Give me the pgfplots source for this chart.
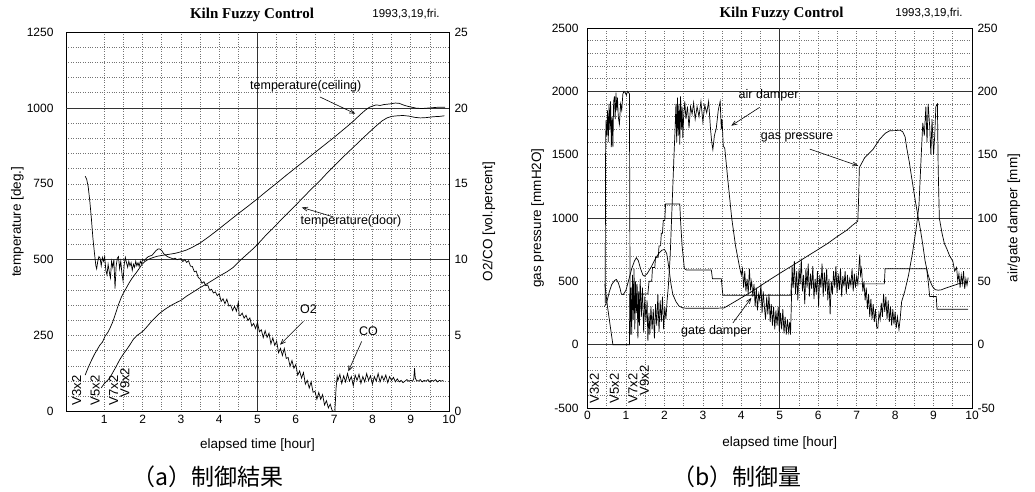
\documentclass[border=0pt]{standalone}
\usepackage{fontspec}
\setmainfont{Liberation Sans}
\newfontfamily\titlefont{Liberation Serif}
\newfontfamily\jpfont{Noto Sans CJK JP}
\usepackage{pgfplots}
\pgfplotsset{compat=1.18}
\usetikzlibrary{arrows.meta}

\tikzset{
  arr/.style={-{Straight Barb[length=5pt,width=4pt]}, line width=0.6pt},
  ann/.style={font=\fontsize{12.5}{13}\selectfont},
  vlab/.style={font=\fontsize{13}{13}\selectfont, rotate=90, anchor=west, inner sep=0pt},
}
\pgfplotsset{
  kiln/.style={
    scale only axis, anchor=south west,
    xmin=0, xmax=10,
    tick style={draw=none},
    axis line style={line width=0.8pt},
    /pgf/number format/assume math mode=true,
    /pgf/number format/1000 sep={},
    ticklabel style={font=\fontsize{12}{12}\selectfont},
    label style={font=\fontsize{13.5}{14}\selectfont},
    cycle list={{black, no markers}},
    every axis plot/.append style={line width=0.7pt},
  },
  gridded/.style={
    grid=both,
    minor x tick num=1,
    minor y tick num=4,
    major grid style={dotted, black!55, line width=0.6pt},
    minor grid style={dotted, black!55, line width=0.6pt},
    extra tick style={major grid style={solid, black!80, line width=0.6pt}, tick style={draw=none}},
    extra x ticks={5}, extra x tick labels={},
  },
  overlay/.style={
    axis x line=none, axis y line*=right,
    grid=none,
  },
}

\begin{document}
\begin{tikzpicture}
\useasboundingbox (0,0) rectangle (1035pt,491pt);

% ---------------- (a) ----------------
\begin{axis}[kiln, gridded,
  at={(66pt,79.5pt)}, width=383pt, height=379.5pt,
  ymin=0, ymax=1250, ytick={0,250,...,1250}, xtick={1,...,10},
  extra y ticks={500,1000}, extra y tick labels={},
  yticklabel style={xshift=-9pt},
  xlabel={elapsed time [hour]}, ylabel={temperature [deg.]},
  xlabel style={at={(axis description cs:0.5,-0.088)}, anchor=center},
  ylabel style={at={(axis description cs:-0.127,0.5)}, anchor=center},
]
% ceiling
\addplot coordinates {(0.50,120) (0.58,145) (0.67,170) (0.75,190) (0.82,205) (0.89,220) (0.95,228) (1.02,248) (1.1,262) (1.15,275) (1.22,295) (1.3,325) (1.37,352) (1.45,378) (1.52,395) (1.58,408) (1.65,424) (1.72,438) (1.81,453) (1.9,469) (1.98,484) (2.06,494) (2.15,501) (2.25,506) (2.37,511) (2.5,514) (2.7,518) (2.85,521) (3.0,526) (3.15,532) (3.3,541) (3.5,555) (3.7,573) (3.9,592) (4.1,612) (4.3,632) (4.5,652) (4.75,676) (5.0,701) (5.25,727) (5.5,752) (5.75,778) (6.0,803) (6.25,828) (6.5,853) (6.75,878) (7.0,903) (7.2,924) (7.4,945) (7.55,962) (7.7,980) (7.82,993) (7.92,1002) (8.0,1006) (8.1,1010) (8.2,1008) (8.3,1011) (8.45,1013) (8.6,1016) (8.7,1015) (8.8,1010) (8.9,1006) (9.0,1003) (9.15,999) (9.3,998) (9.5,1000) (9.7,1002) (9.9,1002)};
% door
\addplot coordinates {(0.92,78) (1.0,92) (1.08,102) (1.15,112) (1.22,128) (1.3,146) (1.4,170) (1.5,190) (1.59,205) (1.68,222) (1.76,238) (1.85,250) (1.94,258) (2.02,266) (2.12,280) (2.22,295) (2.35,312) (2.46,325) (2.6,338) (2.75,350) (2.9,360) (3.0,366) (3.15,380) (3.3,392) (3.5,408) (3.67,420) (3.85,434) (4.0,446) (4.2,460) (4.37,475) (4.55,498) (4.7,515) (4.85,532) (5.02,553) (5.2,578) (5.4,603) (5.59,628) (5.8,655) (6.0,680) (6.2,706) (6.4,732) (6.63,760) (6.85,790) (7.05,815) (7.25,840) (7.5,870) (7.7,894) (7.9,918) (8.11,942) (8.25,957) (8.38,967) (8.5,972) (8.65,974) (8.8,975) (8.95,973) (9.1,969) (9.25,967) (9.4,968) (9.6,971) (9.75,972) (9.88,974)};

\node[ann] at (axis cs:6.26,1071) {temperature(ceiling)};
\draw[arr] (axis cs:6.63,1036) -- (axis cs:7.55,981);
\node[ann] at (axis cs:7.44,626) {temperature(door)};
\draw[arr] (axis cs:6.98,641) -- (axis cs:6.16,672);
\node[ann] at (axis cs:6.33,336) {O2};
\draw[arr] (axis cs:6.2,297) -- (axis cs:5.59,220);
\node[ann] at (axis cs:7.9,264) {CO};
\draw[arr] (axis cs:7.72,231) -- (axis cs:7.37,132);

\node[vlab] at (axis cs:0.28,20) {V3x2};
\node[vlab] at (axis cs:0.76,20) {V5x2};
\node[vlab] at (axis cs:1.24,20) {V7x2};
\node[vlab] at (axis cs:1.54,45) {V9x2};
\end{axis}

\begin{axis}[kiln, overlay,
  at={(66pt,79.5pt)}, width=383pt, height=379.5pt,
  ymin=0, ymax=25, ytick={0,5,...,25},
  yticklabel style={xshift=2pt},
  ylabel={O2/CO [vol.percent]},
  ylabel style={at={(axis description cs:1.104,0.5)}, anchor=center},
]
% O2
\addplot coordinates {(0.50,15.5) (0.54,15.3) (0.58,14.8) (0.62,13.9) (0.66,12.8) (0.7,11.5) (0.74,10.5) (0.78,9.6) (0.8,9.4) (0.83,9.9) (0.86,10.2) (0.89,10.1) (0.92,9.6) (0.95,10.15) (0.98,9.9) (1.01,10.2) (1.04,9.3) (1.07,9.0) (1.1,9.7) (1.13,9.2) (1.16,8.8) (1.19,9.9) (1.22,9.5) (1.25,10.0) (1.28,8.1) (1.31,9.6) (1.34,10.1) (1.37,10.2) (1.4,9.4) (1.43,9.9) (1.46,9.1) (1.49,8.6) (1.52,9.7) (1.55,10.15) (1.58,9.8) (1.61,9.5) (1.64,9.9) (1.67,9.6) (1.7,9.8) (1.73,9.3) (1.76,9.7) (1.79,9.5) (1.82,9.9) (1.85,9.6) (1.88,9.8) (1.91,9.55) (1.94,9.9) (1.97,9.75) (2.0,10.0) (2.05,9.95) (2.1,10.1) (2.15,10.2) (2.2,10.25) (2.25,10.3) (2.3,10.45) (2.35,10.6) (2.4,10.7) (2.45,10.7) (2.5,10.6) (2.55,10.4) (2.6,10.3) (2.65,10.2) (2.7,10.15) (2.75,10.1) (2.8,10.05) (2.85,10.1) (2.9,10.0) (2.95,10.05)
 (3.00,10.06) (3.05,9.88) (3.10,10.01) (3.15,9.82) (3.20,9.93) (3.25,9.58) (3.30,9.55) (3.35,9.21) (3.40,9.25) (3.45,8.84) (3.50,8.73) (3.55,8.45) (3.60,8.55) (3.65,8.29) (3.70,8.34) (3.75,7.99) (3.80,8.05) (3.85,7.81) (3.90,7.88) (3.95,7.63) (4.00,7.77) (4.05,7.25) (4.10,7.43) (4.15,7.10) (4.20,7.40) (4.25,6.95) (4.30,7.01) (4.35,6.65) (4.40,6.93) (4.45,6.61) (4.50,7.20) (4.52,6.35) (4.55,6.31) (4.60,6.48) (4.65,6.15) (4.70,6.34) (4.75,6.00) (4.80,6.16) (4.85,5.63) (4.90,5.80) (4.95,5.46) (5.00,5.87) (5.05,5.25) (5.10,5.38) (5.15,4.87) (5.20,5.32) (5.25,4.88) (5.30,5.16) (5.35,4.45) (5.40,4.85) (5.45,4.36) (5.50,4.63) (5.55,3.87) (5.60,4.16) (5.65,3.69) (5.70,4.15) (5.75,3.50) (5.80,3.56) (5.85,2.98) (5.90,3.36) (5.95,2.85) (6.00,3.10) (6.05,2.39) (6.10,2.67) (6.15,2.20) (6.20,2.57) (6.25,1.80) (6.30,2.05) (6.35,1.54) (6.40,1.96) (6.45,1.27) (6.50,1.33) (6.55,0.81) (6.60,1.25) (6.65,0.80) (6.70,1.11) (6.75,0.43) (6.80,0.71) (6.85,0.24) (6.90,0.48) (6.95,0.05) (7.00,0.0)};
% CO
\addplot coordinates {(7.02,0.0) (7.05,1.5) (7.08,2.3) (7.10,2.05) (7.15,2.45) (7.20,1.85) (7.25,2.35) (7.30,1.95) (7.35,2.5) (7.40,2.0) (7.45,2.3) (7.50,1.7) (7.55,2.4) (7.60,2.05) (7.65,2.45) (7.70,1.85) (7.75,2.3) (7.80,1.95) (7.85,2.5) (7.90,2.05) (7.95,2.35) (8.00,1.8) (8.05,2.3) (8.10,2.0) (8.15,2.5) (8.20,1.95) (8.25,2.35) (8.30,2.05) (8.35,2.4) (8.40,1.9) (8.45,2.3) (8.50,2.05) (8.55,2.25) (8.60,1.95) (8.65,2.15) (8.70,1.95) (8.75,2.05) (8.80,1.9) (8.85,2.0) (8.90,2.1) (8.95,2.0) (9.00,2.05) (9.05,2.0) (9.08,2.15) (9.10,2.85) (9.12,2.2) (9.15,2.05) (9.20,2.0) (9.25,2.1) (9.30,1.95) (9.35,2.05) (9.40,2.0) (9.45,2.1) (9.50,1.95) (9.55,2.05) (9.60,2.0) (9.65,2.1) (9.70,1.95) (9.75,2.05) (9.80,2.0) (9.85,2.05)};
\addplot[line width=2pt] coordinates {(3.0,0) (5.0,0)};
\end{axis}

% ---------------- (b) ----------------
\begin{axis}[kiln, gridded,
  at={(587.5pt,83pt)}, width=384.5pt, height=380pt,
  ymin=-500, ymax=2500, ytick={-500,0,...,2500}, xtick={0,...,10},
  extra y ticks={0,1000,2000}, extra y tick labels={},
  yticklabel style={xshift=-5.5pt},
  xlabel={elapsed time [hour]}, ylabel={gas pressure [mmH2O]},
  xlabel style={at={(axis description cs:0.5,-0.092)}, anchor=center},
  ylabel style={at={(axis description cs:-0.130,0.5)}, anchor=center},
]
% gas pressure
\addplot coordinates {(0.44,300) (0.5,335) (0.57,420) (0.63,475) (0.7,505) (0.75,515) (0.8,490) (0.85,440) (0.88,400) (0.93,395) (1.0,430) (1.08,520) (1.15,600) (1.22,660) (1.27,686) (1.32,665) (1.38,600) (1.44,550) (1.48,541) (1.55,560) (1.65,610) (1.75,670) (1.85,720) (1.93,745) (2.0,752) (2.06,720) (2.12,600) (2.17,480) (2.22,396) (2.3,340) (2.38,305) (2.48,290) (2.6,287) (3.0,287) (3.3,287) (3.55,290) (3.75,325) (4.0,370) (4.25,415) (4.5,465) (4.75,515) (5.0,563) (5.25,610) (5.5,657) (5.75,705) (6.0,752) (6.25,800) (6.5,855) (6.75,905) (6.9,945) (7.03,975) (7.05,1150) (7.07,1398) (7.21,1477) (7.43,1544) (7.6,1623) (7.75,1670) (7.86,1689) (8.0,1690) (8.13,1694) (8.2,1680) (8.26,1640) (8.3,1557) (8.37,1440) (8.43,1319) (8.54,1108) (8.65,923) (8.72,790) (8.78,660) (8.85,560) (8.91,501) (8.97,460) (9.04,435) (9.12,430) (9.2,433) (9.33,448) (9.5,465) (9.69,485) (9.88,488)};

\node[ann] at (axis cs:4.71,1966) {air damper};
\draw[arr] (axis cs:4.48,1874) -- (axis cs:3.74,1729);
\node[ann] at (axis cs:5.45,1636) {gas pressure};
\draw[arr] (axis cs:5.78,1544) -- (axis cs:7.04,1412);
\node[ann] at (axis cs:3.35,105) {gate damper};
\draw[arr] (axis cs:3.78,171) -- (axis cs:4.26,369);

\node[vlab] at (axis cs:0.18,-465) {V3x2};
\node[vlab] at (axis cs:0.70,-465) {V5x2};
\node[vlab] at (axis cs:1.18,-465) {V7x2};
\node[vlab] at (axis cs:1.48,-400) {V9x2};
\end{axis}

\begin{axis}[kiln, overlay,
  at={(587.5pt,83pt)}, width=384.5pt, height=380pt,
  ymin=-50, ymax=250, ytick={-50,0,...,250},
  yticklabel style={xshift=2pt},
  ylabel={air/gate damper [mm]},
  ylabel style={at={(axis description cs:1.109,0.5)}, anchor=center},
]
% air damper
\addplot coordinates {(0.46,33) (0.47,150) (0.48,177) (0.5,165) (0.52,185) (0.54,160) (0.56,190) (0.58,170) (0.6,192) (0.62,156) (0.64,180) (0.66,156) (0.68,192) (0.7,196) (0.72,178) (0.74,199) (0.76,185) (0.78,195) (0.8,180) (0.83,174) (0.86,190) (0.89,185) (0.92,198) (0.95,200) (0.98,199) (1.01,197) (1.04,200) (1.07,199) (1.09,198) (1.1,100) (1.11,8)
 (1.13,45) (1.15,8) (1.17,55) (1.19,20) (1.21,60) (1.23,12) (1.25,50) (1.27,25) (1.29,48) (1.31,5) (1.33,42) (1.35,15) (1.37,52) (1.4,22) (1.43,45) (1.46,10) (1.49,38) (1.52,18) (1.55,35) (1.57,3) (1.6,25) (1.62,8) (1.65,30) (1.68,12) (1.71,28) (1.74,5) (1.77,32) (1.8,15) (1.83,40) (1.86,10) (1.89,35) (1.92,18) (1.95,38) (1.98,12) (2.01,30) (2.04,20) (2.07,35) (2.1,45) (2.15,70) (2.2,110) (2.25,150) (2.28,172) (2.3,190)
 (2.32,160) (2.34,195) (2.36,165) (2.38,190) (2.4,158) (2.42,196) (2.44,170) (2.46,188) (2.48,163) (2.5,180) (2.53,192) (2.56,178) (2.6,188) (2.64,171) (2.68,188) (2.72,182) (2.76,191) (2.8,178) (2.85,188) (2.9,180) (2.95,192) (3.0,176) (3.05,189) (3.1,183) (3.15,192) (3.2,170) (3.23,160) (3.26,154) (3.3,165) (3.35,171) (3.4,185) (3.45,192) (3.48,170) (3.5,178) (3.53,157) (3.57,155) (3.65,130) (3.75,100) (3.85,78) (3.95,62)
 (4.0,55) (4.03,60) (4.06,45) (4.09,58) (4.12,42) (4.15,52) (4.18,40) (4.21,60) (4.24,44) (4.27,50) (4.3,38) (4.33,48) (4.36,30) (4.39,45) (4.42,27) (4.45,40) (4.48,35) (4.51,48) (4.54,25) (4.57,42) (4.6,30) (4.63,20) (4.66,38) (4.69,24) (4.72,40) (4.75,18) (4.78,32) (4.81,15) (4.84,30) (4.87,12) (4.9,27) (4.93,15) (4.96,30) (4.99,10) (5.02,25) (5.05,12) (5.08,28) (5.11,9) (5.14,22) (5.17,8) (5.2,20) (5.23,10) (5.26,18) (5.28,8)
 (5.3,30) (5.32,62) (5.35,45) (5.38,66) (5.41,40) (5.44,58) (5.47,35) (5.5,60) (5.53,48) (5.56,68) (5.59,42) (5.62,55) (5.65,32) (5.68,60) (5.71,45) (5.74,64) (5.77,38) (5.8,56) (5.83,44) (5.86,62) (5.89,36) (5.92,52) (5.95,40) (5.98,58) (6.01,30) (6.04,55) (6.07,45) (6.1,64) (6.13,38) (6.16,57) (6.19,42) (6.22,60) (6.25,35) (6.28,52) (6.31,24) (6.34,50) (6.37,40) (6.4,58) (6.43,45) (6.46,62) (6.49,41) (6.52,56) (6.55,43) (6.58,60) (6.61,38) (6.64,54) (6.67,46) (6.7,58) (6.73,40) (6.76,55) (6.79,44) (6.82,52) (6.85,47) (6.88,60) (6.91,42) (6.94,56) (6.97,45) (7.0,54) (7.03,48) (7.06,62) (7.08,71) (7.1,55) (7.13,60) (7.16,42) (7.19,50) (7.22,35) (7.25,45) (7.28,28) (7.31,40) (7.34,22) (7.37,36) (7.4,20) (7.43,32) (7.46,18) (7.49,28) (7.52,14) (7.55,13) (7.58,25) (7.61,20) (7.64,33) (7.67,22) (7.7,40) (7.73,26) (7.76,38) (7.79,20) (7.82,35) (7.85,18) (7.88,30) (7.91,15) (7.94,28) (7.97,16) (8.0,26) (8.03,13) (8.06,22) (8.1,12) (8.13,20) (8.17,34) (8.25,42) (8.35,55) (8.45,72) (8.55,92) (8.62,110) (8.68,150) (8.72,175) (8.76,165) (8.8,188) (8.83,160) (8.86,190) (8.9,172) (8.93,150) (8.96,178) (9.0,150) (9.03,165) (9.06,188) (9.1,190) (9.12,140) (9.15,100) (9.22,88) (9.28,80) (9.34,76) (9.42,70) (9.5,66) (9.55,58) (9.6,61) (9.63,50) (9.66,56) (9.69,45) (9.72,55) (9.75,48) (9.78,58) (9.81,44) (9.84,52) (9.87,47) (9.9,53)};
% gate damper
\addplot coordinates {(0.45,48) (0.52,30) (0.66,0) (1.09,0) (1.1,40) (1.57,40) (1.6,50) (1.67,50) (1.69,61) (1.75,61) (1.77,69) (1.84,69) (1.86,78) (1.9,78) (1.92,88) (1.95,88) (1.97,98) (2.01,98) (2.03,111) (2.4,111) (2.42,98) (2.44,88) (2.46,78) (2.49,69) (2.52,60) (2.57,59) (3.22,59) (3.25,52) (3.48,52) (3.52,39) (5.29,39) (5.3,48) (7.72,48) (7.74,60) (8.82,60) (8.86,50) (8.9,38) (9.07,38) (9.09,28) (9.9,28)};
\end{axis}

% titles and captions
\node[font=\titlefont\bfseries\fontsize{15}{15}\selectfont] at (252pt,476.5pt) {Kiln Fuzzy Control};
\node[font=\fontsize{11.5}{12}\selectfont] at (406pt,476.5pt) {1993,3,19,fri.};
\node[font=\titlefont\bfseries\fontsize{15}{15}\selectfont] at (781.5pt,477.5pt) {Kiln Fuzzy Control};
\node[font=\fontsize{11.5}{12}\selectfont] at (929pt,477.5pt) {1993,3,19,fri.};
\node[font=\jpfont\fontsize{23}{23}\selectfont] at (208pt,14pt) {（a）制御結果};
\node[font=\jpfont\fontsize{23}{23}\selectfont] at (737pt,14pt) {（b）制御量};
\end{tikzpicture}
\end{document}
